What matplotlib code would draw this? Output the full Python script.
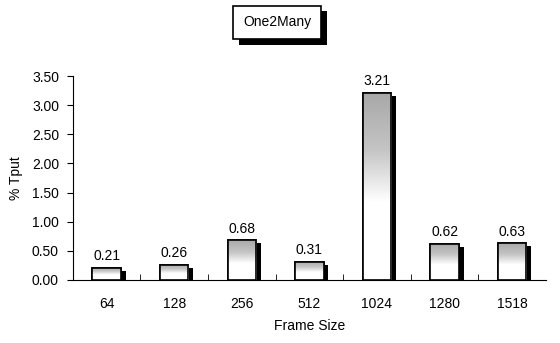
import matplotlib.pyplot as plt
import matplotlib.patheffects as pe
import numpy as np
from matplotlib.colors import LinearSegmentedColormap

frame_sizes = ['64', '128', '256', '512', '1024', '1280', '1518']
tput = [0.21, 0.26, 0.68, 0.31, 3.21, 0.62, 0.63]
yticks = [0.0, 0.5, 1.0, 1.5, 2.0, 2.5, 3.0, 3.5]

plt.rcParams['font.family'] = ['Liberation Sans Narrow', 'Liberation Sans', 'DejaVu Sans']

fig = plt.figure(figsize=(5.6, 3.43), dpi=100)
ax = fig.add_axes([0.130, 0.184, 0.845, 0.594])

x = np.arange(len(frame_sizes))
w = 0.42
# grey at the top fading to white toward the base
shade = LinearSegmentedColormap.from_list(
    'shade', [(0, 'white'), (0.42, 'white'), (0.7, '#c4c4c4'), (1, '#a8a8a8')])
grad = np.linspace(0, 1, 256).reshape(-1, 1)

# drop shadows
ax.bar(x + 0.07, np.array(tput) - 0.05, width=w, color='black', zorder=1)
bars = ax.bar(x, tput, width=w, facecolor='white', edgecolor='black', linewidth=1.2, zorder=2)
for b, v in zip(bars, tput):
    im = ax.imshow(grad, cmap=shade, aspect='auto', origin='lower', zorder=3,
                   extent=(b.get_x(), b.get_x() + w, 0, v), interpolation='bilinear')
    im.set_clip_path(b)
    ax.add_patch(plt.Rectangle((b.get_x(), 0), w, v, fill=False, edgecolor='black',
                               linewidth=1.2, zorder=4))
    ax.text(b.get_x() + w / 2, v + 0.08, f'{v:.2f}', ha='center', va='bottom', fontsize=10)

ax.set_xlim(-0.5, len(frame_sizes) - 0.5)
ax.set_ylim(0, 3.5)
ax.set_yticks(yticks)
ax.set_yticklabels([f'{t:.2f}' for t in yticks], fontsize=10)
ax.set_xticks(x)
ax.set_xticklabels(frame_sizes, fontsize=10)
ax.tick_params(axis='x', length=0, pad=12)
ax.set_xticks(np.arange(len(frame_sizes) - 1) + 0.5, minor=True)
ax.tick_params(axis='x', which='minor', direction='in', length=4)
ax.tick_params(axis='y', direction='out', length=4, pad=6)
for s in ['top', 'right']:
    ax.spines[s].set_visible(False)
ax.set_xlabel('Frame Size', fontsize=10, labelpad=6)
ax.set_ylabel('% Tput', fontsize=10, labelpad=6)

# title box with a drop shadow
title = fig.text(0.495, 0.935, 'One2Many', ha='center', va='center', fontsize=10,
                 bbox=dict(boxstyle='square,pad=0.7', facecolor='white',
                           edgecolor='black', linewidth=1.2))
title.get_bbox_patch().set_path_effects([
    pe.SimplePatchShadow(offset=(4, -4), shadow_rgbFace='black', alpha=1.0),
    pe.Normal()])

fig.savefig('out.png', dpi=100, facecolor='white')
